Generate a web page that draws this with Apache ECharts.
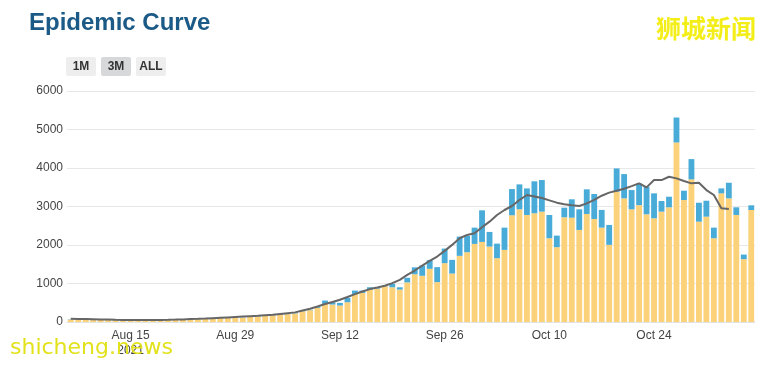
<!DOCTYPE html>
<html>
<head>
<meta charset="utf-8">
<script src="https://cdn.jsdelivr.net/npm/echarts@6/dist/echarts.min.js"></script>
<style>
html,body{margin:0;padding:0;background:#fff;}
#chart{width:770px;height:366px;}
</style>
</head>
<body>
<div id="chart"></div>
<script>
var categories = [
"Aug 7","Aug 8","Aug 9","Aug 10","Aug 11","Aug 12","Aug 13","Aug 14","Aug 15","Aug 16",
"Aug 17","Aug 18","Aug 19","Aug 20","Aug 21","Aug 22","Aug 23","Aug 24","Aug 25","Aug 26",
"Aug 27","Aug 28","Aug 29","Aug 30","Aug 31","Sep 1","Sep 2","Sep 3","Sep 4","Sep 5",
"Sep 6","Sep 7","Sep 8","Sep 9","Sep 10","Sep 11","Sep 12","Sep 13","Sep 14","Sep 15",
"Sep 16","Sep 17","Sep 18","Sep 19","Sep 20","Sep 21","Sep 22","Sep 23","Sep 24","Sep 25",
"Sep 26","Sep 27","Sep 28","Sep 29","Sep 30","Oct 1","Oct 2","Oct 3","Oct 4","Oct 5",
"Oct 6","Oct 7","Oct 8","Oct 9","Oct 10","Oct 11","Oct 12","Oct 13","Oct 14","Oct 15",
"Oct 16","Oct 17","Oct 18","Oct 19","Oct 20","Oct 21","Oct 22","Oct 23","Oct 24","Oct 25",
"Oct 26","Oct 27","Oct 28","Oct 29","Oct 30","Oct 31","Nov 1","Nov 2","Nov 3","Nov 4",
"Nov 5","Nov 6"
];
var shownTicks = ["Aug 15","Aug 29","Sep 12","Sep 26","Oct 10","Oct 24"];
var yTicks = [0,1000,2000,3000,4000,5000,6000];

var yellowCases = [
65,70,55,50,55,50,45,40,45,35,
40,45,50,55,60,65,70,75,85,95,
105,110,120,110,130,145,155,175,195,205,
220,280,306,367,471,453,427,513,730,756,
842,868,928,902,842,1028,1240,1200,1381,1036,
1528,1259,1718,1813,2028,2080,1959,1658,1873,2772,
2927,2780,2824,2866,2176,1943,2720,2710,2391,2806,
2676,2451,2003,3383,3212,2927,3035,2798,2694,2866,
2979,4663,3168,3705,2606,2736,2176,3342,3212,2780,
1632,2909
];
var blueCases = [
8,6,5,6,5,4,5,6,5,5,
6,5,5,6,6,5,6,6,6,7,
7,8,8,7,8,8,8,10,10,10,
10,10,10,20,86,60,70,114,86,60,
60,43,20,88,60,120,180,266,225,389,
379,355,500,423,423,821,380,378,578,681,
648,690,830,821,604,301,249,477,536,640,
648,460,518,606,630,500,566,715,648,276,
275,648,242,526,492,414,275,129,405,199,
119,122
];
var avgLine = [
85,80,75,70,65,62,58,55,52,50,
50,52,55,58,62,68,75,82,90,100,
110,120,130,140,150,160,175,190,210,230,
250,300,345,404,466,518,578,648,725,793,
855,896,940,1010,1096,1225,1337,1466,1588,1700,
1847,2003,2176,2262,2306,2461,2606,2780,2909,3013,
3168,3298,3260,3220,3160,3100,3060,3030,3013,3080,
3170,3280,3360,3410,3460,3530,3601,3497,3687,3687,
3773,3731,3661,3601,3617,3427,3298,2953,2935,null,
null,null
];

var chart = echarts.init(document.getElementById('chart'), null, {renderer:'canvas'});
var FONT = '"Liberation Sans", Arial, sans-serif';

function btn(x, label, bg) {
  return {
    type: 'group', left: x, top: 57,
    children: [
      {type:'rect', shape:{x:0,y:0,width:30,height:19,r:2}, style:{fill:bg}},
      {type:'text', style:{x:15,y:10,text:label,fill:'#333',font:'bold 12px '+FONT,textAlign:'center',textVerticalAlign:'middle'}}
    ]
  };
}

chart.setOption({
  backgroundColor:'#ffffff',
  animation:false,
  title:{
    text:'Epidemic Curve', left:24, top:6,
    textStyle:{color:'#1b5a86', fontSize:24, fontWeight:'bold', fontFamily:FONT}
  },
  graphic:[
    btn(66,'1M','#eeeeee'),
    btn(101,'3M','#d6d8da'),
    btn(136,'ALL','#eeeeee'),
    {type:'text', left:656, top:16, z:100,
      style:{text:'狮城新闻', fill:'#f3ee18', font:'bold 25px "Noto Sans CJK SC", sans-serif',
        shadowColor:'rgba(80,80,0,0.6)', shadowBlur:2, shadowOffsetX:1, shadowOffsetY:1}},
    {type:'text', left:10, top:337, z:100,
      style:{text:'shicheng.news', fill:'#e2e21c', font:'22px "DejaVu Sans", sans-serif',
        shadowColor:'rgba(80,80,0,0.5)', shadowBlur:1, shadowOffsetX:1, shadowOffsetY:1}}
  ],
  grid:{left:67, right:15, top:91, bottom:44},
  xAxis:{
    type:'category', data:categories, boundaryGap:true,
    axisTick:{show:false},
    axisLine:{show:true, lineStyle:{color:'#e3e3e3'}},
    axisLabel:{
      color:'#444', fontSize:12, fontFamily:FONT, margin:6, lineHeight:15,
      interval:function(i, v){ return shownTicks.indexOf(v) >= 0; },
      formatter:function(v){ return v === 'Aug 15' ? 'Aug 15\n2021' : v; }
    }
  },
  yAxis:{
    type:'value', min:yTicks[0], max:yTicks[yTicks.length-1], interval:1000,
    axisLine:{show:false}, axisTick:{show:false},
    axisLabel:{color:'#444', fontSize:12, fontFamily:FONT, margin:4,
      formatter:function(v){ return String(v); }},
    splitLine:{lineStyle:{color:'#e8e8e8'}}
  },
  series:[
    {name:'Local', type:'bar', stack:'c', data:yellowCases, barCategoryGap:'22%',
      itemStyle:{color:'#fbd279'}},
    {name:'Dorm', type:'bar', stack:'c', data:blueCases,
      itemStyle:{color:'#49abd8'}},
    {name:'7-day avg', type:'line', data:avgLine, symbol:'none', connectNulls:false,
      lineStyle:{color:'#666666', width:2}, z:5}
  ]
});
</script>
</body>
</html>
